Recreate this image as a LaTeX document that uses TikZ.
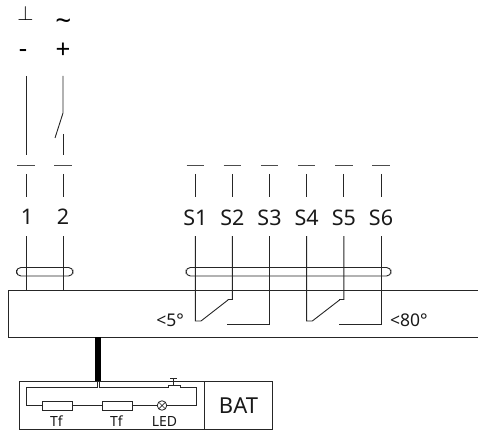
\documentclass[tikz,border=0pt]{standalone}
\usepackage{fontspec}
\setmainfont{Noto Sans}
\tikzset{
  wire/.style={draw=black!85,line width=0.9pt},
  thin wire/.style={draw=black!85,line width=0.8pt},
  termlabel/.style={inner sep=0pt,font=\fontsize{21.5}{23}\selectfont,text=black!90},
  anglelabel/.style={inner sep=0pt,font=\fontsize{17.5}{19}\selectfont,text=black!90},
  smalllabel/.style={inner sep=0pt,font=\fontsize{14}{16}\selectfont,text=black!90},
  boxlabel/.style={inner sep=0pt,font=\fontsize{22}{24}\selectfont,text=black!90},
  cable/.style={wire,rounded corners=4.4pt},
  fuse/.style={draw=black!85,line width=0.8pt,minimum width=30pt,minimum height=9pt,inner sep=0pt,fill=white},
  lamp/.style={circle,draw=black!85,line width=0.8pt,minimum size=9.5pt,inner sep=0pt,path picture={
    \draw[black!85,line width=0.7pt] (path picture bounding box.south west)--(path picture bounding box.north east)
    (path picture bounding box.north west)--(path picture bounding box.south east);}},
}
\begin{document}
\begin{tikzpicture}[x=1pt,y=-1pt]
\useasboundingbox (0,0) rectangle (478,430);
% main housing
\coordinate (mainTR) at (478,290);
\coordinate (mainTL) at (8,290);
\coordinate (mainBL) at (8,337);
\coordinate (mainBR) at (478,337);
\draw[wire,line width=1pt] (mainTR)--(mainTL)--(mainBL)--(mainBR);
% supply symbols
\node[inner sep=0pt,font=\fontsize{21}{23}\selectfont] (earth) at (25.5,13.5) {$\perp$};
\node[inner sep=0pt,font=\bfseries\fontsize{28}{30}\selectfont] (ac) at (63.5,24.5) {\textasciitilde};
\node[inner sep=0pt,font=\bfseries\fontsize{26}{28}\selectfont] (minus) at (23,54) {-};
\node[inner sep=0pt,font=\bfseries\fontsize{26}{28}\selectfont] (plus) at (63,51) {+};
% terminal 1 and 2
\node[termlabel] (t1) at (27,217) {1};
\node[termlabel] (t2) at (63,217) {2};
\foreach \n/\x in {t1/26,t2/63}{
  \coordinate (\n a) at (\x,155);
  \coordinate (\n b) at (\x,174);
  \coordinate (\n c) at (\x,197);
  \coordinate (\n d) at (\x,236);
  \coordinate (\n e) at (\x,290);
  \coordinate (\n dl) at (\x-8.75,165);
  \coordinate (\n dr) at (\x+8.75,165);
  \draw[wire] (\n b)--(\n c) (\n d)--(\n e);
  \draw[thin wire,black!70] (\n dl)--(\n dr);
}
\coordinate (t1top) at (26,76);
\draw[wire] (t1top)--(t1a);
\coordinate (t2top) at (63,76);
\coordinate (t2hinge) at (63,113);
\coordinate (t2blade) at (55,138);
\coordinate (t2contact) at (63,134);
\draw[wire] (t2top)--(t2hinge)--(t2blade);
\draw[wire] (t2contact)--(t2a);
% auxiliary terminals
\foreach \n/\x in {S1/195.3,S2/232.3,S3/269.5,S4/306.6,S5/343.8,S6/381}{
  \node[termlabel] (\n) at (\x,218) {\n};
  \coordinate (\n b) at (\x,174);
  \coordinate (\n c) at (\x,197);
  \coordinate (\n d) at (\x,236);
  \coordinate (\n dl) at (\x-8.75,165);
  \coordinate (\n dr) at (\x+8.75,165);
  \draw[wire] (\n b)--(\n c);
  \draw[thin wire,black!70] (\n dl)--(\n dr);
}
% cable ovals
\coordinate (ovalAa) at (16.5,267.5);
\coordinate (ovalAb) at (73,276);
\coordinate (ovalBa) at (186,267.5);
\coordinate (ovalBb) at (391,276);
\draw[cable] (ovalAa) rectangle (ovalAb);
\draw[cable] (ovalBa) rectangle (ovalBb);
% switch contacts
\coordinate (c1) at (195.3,321);
\coordinate (c1b) at (201,321);
\coordinate (c2) at (228,300);
\coordinate (c2b) at (232.3,299.5);
\coordinate (c3) at (269.5,324);
\coordinate (c3b) at (227,324);
\draw[wire] (S1d)--(c1)--(c1b)--(c2)--(228,299.5)--(c2b)--(S2d);
\draw[wire] (S3d)--(c3)--(c3b);
\coordinate (d1) at (306.6,321);
\coordinate (d1b) at (312.3,321);
\coordinate (d2) at (339.5,300);
\coordinate (d2b) at (343.8,299.5);
\coordinate (d3) at (381,324);
\coordinate (d3b) at (338.5,324);
\draw[wire] (S4d)--(d1)--(d1b)--(d2)--(339.5,299.5)--(d2b)--(S5d);
\draw[wire] (S6d)--(d3)--(d3b);
\node[anchor=east,anglelabel] (a5) at (184,320) {<5°};
\node[anchor=west,anglelabel] (a80) at (390,320) {<80°};
% thick cable
\coordinate (kabelTop) at (98,337);
\coordinate (kabelBot) at (98,381);
\draw[line width=5.5pt,black] (kabelTop)--(kabelBot);
% battery box
\coordinate (batL) at (19,381);
\coordinate (batR) at (272,429);
\draw[wire] (batL) rectangle (batR);
\coordinate (batMidT) at (204,381);
\coordinate (batMidB) at (204,429);
\draw[wire] (batMidT)--(batMidB);
\node[boxlabel] (bat) at (238.5,405.5) {BAT};
% inner circuit
\node[fuse] (f1) at (57,405.5) {};
\node[fuse] (f2) at (117,405.5) {};
\node[lamp] (led) at (162,405.5) {};
\node[smalllabel] (tf1) at (56.5,421) {Tf};
\node[smalllabel] (tf2) at (116.5,421) {Tf};
\node[smalllabel] (ledl) at (164.5,421) {LED};
\coordinate (kl) at (97,381);
\coordinate (kr) at (99.5,381);
\coordinate (loopL) at (26,387.5);
\coordinate (loopR) at (196,387.5);
\coordinate (loopLb) at (26,405.5);
\coordinate (loopRb) at (196,405.5);
\draw[thin wire] (kl)--(97,387.5)--(loopL)--(loopLb)--(f1.west);
\draw[thin wire] (f1.east)--(f2.west) (f2.east)--(led.west) (led.east)--(loopRb)--(loopR)--(180,387.5);
\draw[thin wire] (kr)--(99.5,387.5)--(168,387.5);
% push button
\coordinate (pbL) at (168,387.5);
\coordinate (pbLt) at (168,385.5);
\coordinate (pbRt) at (180,385.5);
\coordinate (pbR) at (180,387.5);
\coordinate (pbTop) at (173.5,378.5);
\draw[thin wire] (pbL)--(pbLt)--(pbRt)--(pbR);
\draw[thin wire] (pbTop)--(173.5,385.5);
\draw[thin wire] (170,378.5)--(177,378.5);
\end{tikzpicture}
\end{document}
